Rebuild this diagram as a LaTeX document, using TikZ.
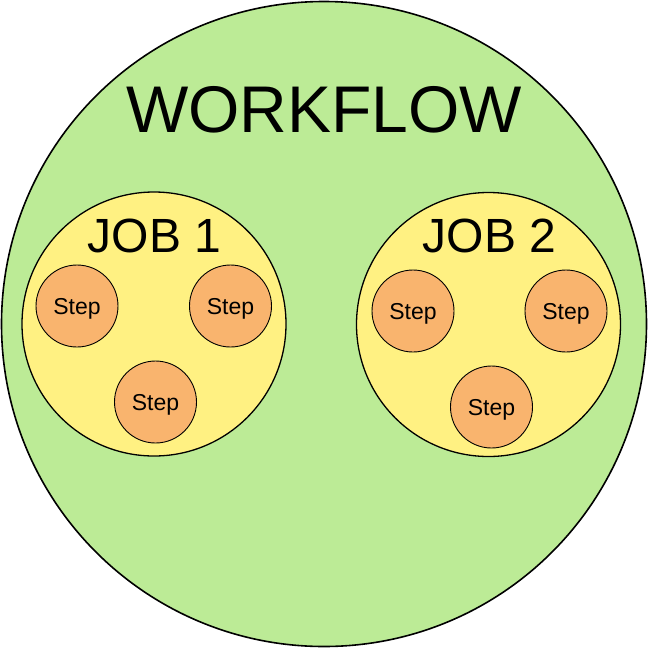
\documentclass[tikz,border=0pt]{standalone}
\usepackage{fontspec}
\setmainfont{Liberation Sans}
\definecolor{wfgreen}{RGB}{188,235,150}
\definecolor{jobyel}{RGB}{255,241,130}
\definecolor{stepor}{RGB}{249,180,110}
\begin{document}
\begin{tikzpicture}[x=1pt,y=-1pt,
  stepnode/.style={circle,draw=black,line width=0.9pt,fill=stepor,minimum size=82pt,inner sep=0pt,
    font=\fontsize{23}{23}\selectfont,text height=16.5pt,text depth=0pt},
  jobnode/.style={circle,draw=black,line width=1.3pt,fill=jobyel,minimum size=264pt,inner sep=0pt},
  jobtext/.style={anchor=base,inner sep=0pt,font=\fontsize{48}{48}\selectfont},
  wfnode/.style={circle,draw=black,line width=1.6pt,fill=wfgreen,minimum size=645pt,inner sep=0pt}]
\useasboundingbox (0,0) rectangle (649,649);
\node[wfnode] (wf) at (324,324) {};
\node[anchor=base,inner sep=0pt,font=\fontsize{66}{66}\selectfont] (wft) at (324,132) {WORKFLOW};
% Job 1
\node[jobnode] (job1) at (154,324) {};
\node[jobtext] (job1t) at (154.5,252) {JOB 1};
\node[stepnode] (s11) at (77,306) {Step};
\node[stepnode] (s12) at (230.5,306) {Step};
\node[stepnode] (s13) at (155.5,402) {Step};
% Job 2
\node[jobnode] (job2) at (488.5,324.5) {};
\node[jobtext] (job2t) at (489.5,252) {JOB 2};
\node[stepnode] (s21) at (413,311) {Step};
\node[stepnode] (s22) at (566,311) {Step};
\node[stepnode] (s23) at (491.5,407) {Step};
\end{tikzpicture}
\end{document}
